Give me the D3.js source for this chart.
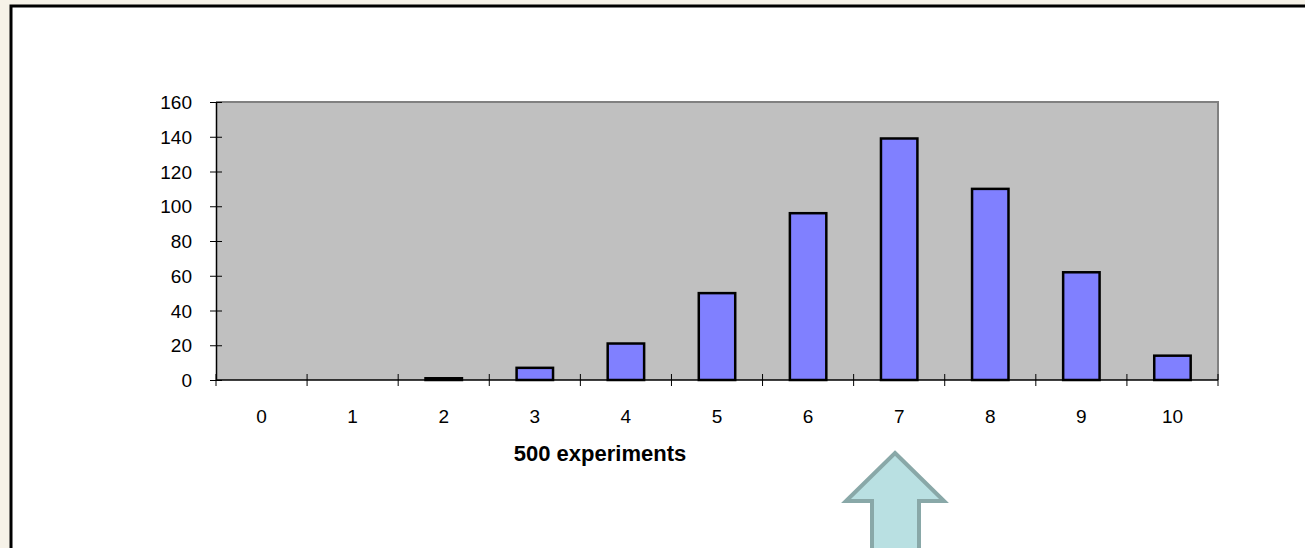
<!DOCTYPE html>
<html>
<head>
<meta charset="utf-8">
<script src="https://cdn.jsdelivr.net/npm/d3@7/dist/d3.min.js"></script>
<style>
  html, body { margin: 0; padding: 0; background: #f6f2e8; }
  svg { display: block; }
  text { font-family: "Liberation Sans", Arial, sans-serif; fill: #000; }
</style>
</head>
<body>
<svg id="chart" width="1305" height="548"></svg>
<script>
// Number of successes per experiment (0..10) and how often each occurred
const categories = ["0", "1", "2", "3", "4", "5", "6", "7", "8", "9", "10"];
const counts = [0, 0, 1, 7, 21, 50, 96, 139, 110, 62, 14];
const yTicks = [0, 20, 40, 60, 80, 100, 120, 140, 160];
const xTitle = "500 experiments";

const svg = d3.select("#chart");
const W = 1305, H = 548;

// framed white sheet
svg.append("rect")
  .attr("x", 11).attr("y", 6)
  .attr("width", W + 10).attr("height", H + 10)
  .attr("fill", "#ffffff")
  .attr("stroke", "#000").attr("stroke-width", 3);

const plot = { left: 216, right: 1218, top: 102, bottom: 380 };

const x = d3.scaleBand()
  .domain(categories)
  .range([plot.left, plot.right])
  .paddingInner(0).paddingOuter(0);

const y = d3.scaleLinear()
  .domain([0, 160])
  .range([plot.bottom, plot.top]);

// plot background
svg.append("rect")
  .attr("x", plot.left).attr("y", plot.top)
  .attr("width", plot.right - plot.left).attr("height", plot.bottom - plot.top)
  .attr("fill", "#c0c0c0");

// grey top and right border of the plot area
svg.append("path")
  .attr("d", `M${plot.left},${plot.top}H${plot.right}V${plot.bottom}`)
  .attr("fill", "none").attr("stroke", "#808080").attr("stroke-width", 2);

// bars
const barW = x.bandwidth() * 0.4;
svg.append("g").selectAll("rect")
  .data(counts)
  .join("rect")
  .attr("x", (d, i) => x(categories[i]) + (x.bandwidth() - barW) / 2)
  .attr("y", d => y(d))
  .attr("width", barW)
  .attr("height", d => y(0) - y(d))
  .attr("fill", "#8080ff")
  .attr("stroke", "#000")
  .attr("stroke-width", 2.5)
  .style("display", d => d > 0 ? null : "none");

// y axis
const yAxis = d3.axisLeft(y).tickValues(yTicks).tickSize(0).tickPadding(0);
const gy = svg.append("g").attr("transform", `translate(${plot.left},0)`).call(yAxis);
gy.select(".domain").attr("stroke", "#000").attr("stroke-width", 1.5);
gy.selectAll(".tick line").remove();
gy.selectAll(".tick").append("line")
  .attr("x1", -6).attr("x2", 6).attr("stroke", "#000").attr("stroke-width", 1);
gy.selectAll(".tick text")
  .attr("x", -24).attr("dy", "0.35em")
  .style("font-size", "19px")
  .style("font-family", "'Liberation Sans', Arial, sans-serif");

// x axis line with ticks at category boundaries
const gx = svg.append("g");
gx.append("line")
  .attr("x1", plot.left).attr("x2", plot.right)
  .attr("y1", plot.bottom).attr("y2", plot.bottom)
  .attr("stroke", "#000").attr("stroke-width", 1.5);
const boundaries = categories.map(c => x(c)).concat([plot.right]);
gx.selectAll("line.tk")
  .data(boundaries)
  .join("line").attr("class", "tk")
  .attr("x1", d => d).attr("x2", d => d)
  .attr("y1", plot.bottom - 6).attr("y2", plot.bottom + 6)
  .attr("stroke", "#000").attr("stroke-width", 1);
gx.selectAll("text")
  .data(categories)
  .join("text")
  .attr("x", d => x(d) + x.bandwidth() / 2)
  .attr("y", 423)
  .attr("text-anchor", "middle")
  .style("font-size", "19px")
  .text(d => d);

// axis title
svg.append("text")
  .attr("x", 600).attr("y", 461)
  .attr("text-anchor", "middle")
  .style("font-size", "22px")
  .style("font-weight", "bold")
  .text(xTitle);

// pointer arrow under category 7
svg.append("path")
  .attr("d", "M895,453 L944,501 L919,501 L919,560 L872,560 L872,501 L846,501 Z")
  .attr("fill", "#b9e0e2")
  .attr("stroke", "#89a8a8")
  .attr("stroke-width", 4)
  .attr("stroke-linejoin", "miter");
</script>
</body>
</html>
